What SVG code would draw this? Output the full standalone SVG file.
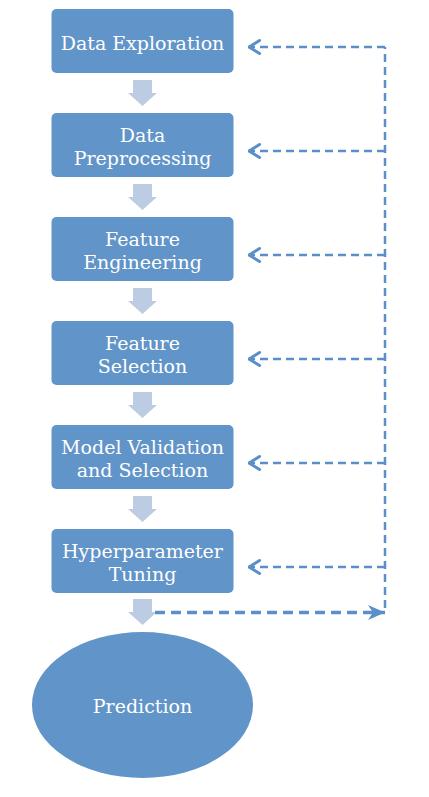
<svg xmlns="http://www.w3.org/2000/svg" width="429" height="797" viewBox="0 0 429 797">
<style>
.box{fill:#6194C8;}
.t{font-family:"DejaVu Serif","Liberation Serif",serif;font-size:19px;fill:#ffffff;text-anchor:middle;}
.down{fill:#BCCCE3;}
.dash{fill:none;stroke:#5B8FC9;stroke-width:2.5;stroke-dasharray:8 5;}
</style>
<defs>
<marker id="open" viewBox="0 0 14 16" refX="12.5" refY="8" markerWidth="14" markerHeight="16" markerUnits="userSpaceOnUse" orient="auto">
<path d="M2,1.5 L12.5,8 L2,14.5" fill="none" stroke="#5B8FC9" stroke-width="3" stroke-linecap="round" stroke-linejoin="round"/>
</marker>
<marker id="stealth" viewBox="0 0 18 16" refX="17" refY="8" markerWidth="18" markerHeight="16" markerUnits="userSpaceOnUse" orient="auto">
<path d="M0,0.5 L17,8 L0,15.5 L5,8 Z" fill="#5B8FC9"/>
</marker>
<path id="dn" d="M6,0 H25 V13 H30 L15.5,26 L1,13 H6 Z"/>
</defs>
<g id="n1"><rect class="box" x="51.5" y="9" width="182" height="64" rx="5"/><text class="t" x="142.5" y="50">Data Exploration</text></g>
<g id="n2"><rect class="box" x="51.5" y="113" width="182" height="64" rx="5"/><text class="t" x="142.5" y="141.5">Data</text><text class="t" x="142.5" y="164.5">Preprocessing</text></g>
<g id="n3"><rect class="box" x="51.5" y="217" width="182" height="64" rx="5"/><text class="t" x="142.5" y="245.5">Feature</text><text class="t" x="142.5" y="268.5">Engineering</text></g>
<g id="n4"><rect class="box" x="51.5" y="321" width="182" height="64" rx="5"/><text class="t" x="142.5" y="349.5">Feature</text><text class="t" x="142.5" y="372.5">Selection</text></g>
<g id="n5"><rect class="box" x="51.5" y="425" width="182" height="64" rx="5"/><text class="t" x="142.5" y="453.5">Model Validation</text><text class="t" x="142.5" y="476.5">and Selection</text></g>
<g id="n6"><rect class="box" x="51.5" y="529" width="182" height="64" rx="5"/><text class="t" x="142.5" y="557.5">Hyperparameter</text><text class="t" x="142.5" y="580.5">Tuning</text></g>
<g id="n7"><ellipse class="box" cx="142.5" cy="705" rx="110.5" ry="73"/><text class="t" x="142.5" y="712.5">Prediction</text></g>
<g id="connectors">
<use href="#dn" class="down" x="127" y="80"/>
<use href="#dn" class="down" x="127" y="184"/>
<use href="#dn" class="down" x="127" y="288"/>
<use href="#dn" class="down" x="127" y="392"/>
<use href="#dn" class="down" x="127" y="496"/>
<use href="#dn" class="down" x="127" y="599"/>
<path class="dash" d="M385,608 V47"/>
<path class="dash" d="M385,47 H249" marker-end="url(#open)"/>
<path class="dash" d="M385,151 H249" marker-end="url(#open)"/>
<path class="dash" d="M385,255 H249" marker-end="url(#open)"/>
<path class="dash" d="M385,359 H249" marker-end="url(#open)"/>
<path class="dash" d="M385,463 H249" marker-end="url(#open)"/>
<path class="dash" d="M385,567 H249" marker-end="url(#open)"/>
<path class="dash" d="M155,612.5 H385" style="stroke-width:3.5;stroke-dasharray:10 6" marker-end="url(#stealth)"/>
</g>
</svg>
